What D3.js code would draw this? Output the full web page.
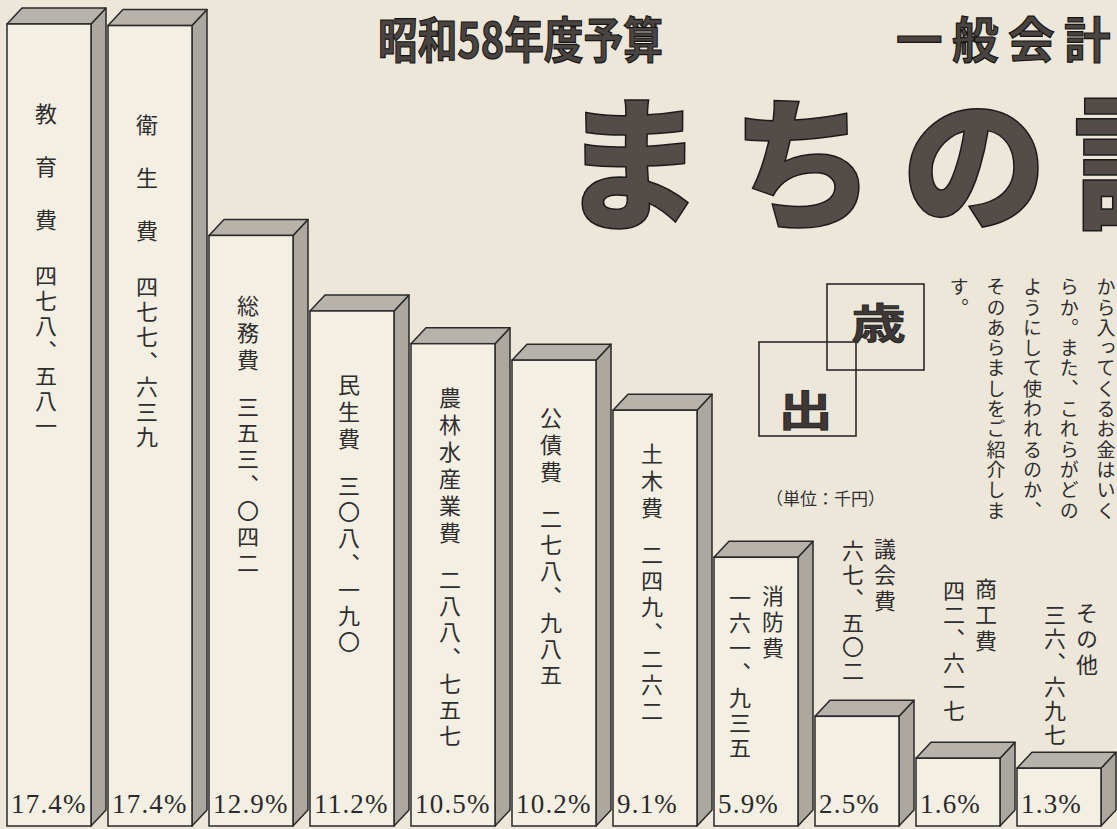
<!DOCTYPE html>
<html>
<head>
<meta charset="utf-8">
<script src="https://cdn.jsdelivr.net/npm/d3@7"></script>
<style>
  body { margin: 0; background: #ede7da; overflow: hidden; }
  svg { display: block; }
</style>
</head>
<body>
<div id="chart"></div>
<script>
// ---------------- data (単位: 千円)
const items = ["教育費", "衛生費", "総務費", "民生費", "農林水産業費", "公債費", "土木費", "消防費", "議会費", "商工費", "その他"]
const amounts = [478581, 477639, 353042, 308190, 288757, 278985, 249262, 161935, 67502, 42617, 36697]
const shares = ["17.4", "17.4", "12.9", "11.2", "10.5", "10.2", "9.1", "5.9", "2.5", "1.6", "1.3"]

const titleLeft = "昭和58年度予算"
const titleRight = "一般会計"
const headline = "まちの計"
const unitNote = "（単位：千円）"
const introColumns = ["から入ってくるお金はいく", "らか。また、これらがどの", "ようにして使われるのか、", "そのあらましをご紹介しま", "す。"]

// first label character centre, relative to the bar's top edge
const labelOffset = [90, 99, 70, 74, 54, 57, 43, 38, -168, -170, -156]

function drawChart() {
    const dims = { width: 1117, height: 829, base: 826, depthX: 15, depthY: 16, face: 84 }
    const ink = "#2a2a2a"
    const jp = "'Noto Sans CJK JP', 'Noto Sans', sans-serif"

    const svg = d3.select("#chart").append("svg")
        .attr("width", dims.width)
        .attr("height", dims.height)

    svg.append("rect")
        .attr("width", dims.width)
        .attr("height", dims.height)
        .attr("fill", "#ede7da")

    //------------------------ scales
    const x = d3.scaleBand()
        .domain(items)
        .range([7, 7 + 101 * items.length])
        .paddingInner(0)

    const y = d3.scaleLinear()
        .domain([0, d3.max(amounts)])
        .range([830, 24])

    const toKanji = n => {
        const digits = "〇一二三四五六七八九"
        const s = String(n).split("").map(c => digits[+c]).join("")
        return s.slice(0, -3) + "、" + s.slice(-3)
    }

    //------------------------ header
    svg.append("text")
        .attr("transform", "translate(378,58) scale(0.81,1)")
        .attr("font-family", jp)
        .attr("font-weight", 700)
        .attr("font-size", 49)
        .attr("fill", "#4a4440")
        .attr("stroke", "#151515")
        .attr("stroke-width", 1.2)
        .text(titleLeft)

    svg.append("text")
        .attr("transform", "translate(896,58) scale(0.95,1)")
        .attr("font-family", jp)
        .attr("font-weight", 700)
        .attr("font-size", 49)
        .attr("letter-spacing", 10)
        .attr("fill", "#4a4440")
        .attr("stroke", "#151515")
        .attr("stroke-width", 1.2)
        .text(titleRight)

    svg.append("text")
        .attr("x", 560)
        .attr("y", 219)
        .attr("font-family", jp)
        .attr("font-weight", 900)
        .attr("font-size", 145)
        .attr("letter-spacing", 26)
        .attr("fill", "#544c48")
        .attr("stroke", "#1a1a1a")
        .attr("stroke-width", 1.5)
        .text(headline)

    // 歳出 boxes
    const boxes = [
        { ch: "歳", x: 827, y: 284, w: 97, h: 86 },
        { ch: "出", x: 759, y: 342, w: 97, h: 94 }
    ]
    boxes.forEach(b => {
        svg.append("rect")
            .attr("x", b.x).attr("y", b.y)
            .attr("width", b.w).attr("height", b.h)
            .attr("fill", "none")
            .attr("stroke", ink)
            .attr("stroke-width", 1.6)
        svg.append("text")
            .attr("transform", `translate(${b.x + b.w / 2 + (b.ch === "歳" ? 3 : -2)},${b.y + b.h / 2 + (b.ch === "歳" ? -6 : 19)}) scale(1.05,0.8)`)
            .attr("text-anchor", "middle")
            .attr("dominant-baseline", "central")
            .attr("font-family", jp)
            .attr("font-weight", 700)
            .attr("font-size", 52)
            .attr("fill", "#3d3835")
            .attr("stroke", "#151515")
            .attr("stroke-width", 0.8)
            .text(b.ch)
    })

    // vertical text helper
    const vtext = (g, str, cx, firstCentre, fs, pitch) => g.append("text")
        .attr("x", cx)
        .attr("y", firstCentre - fs / 2)
        .style("writing-mode", "vertical-rl")
        .attr("font-family", jp)
        .attr("font-weight", 400)
        .attr("font-size", fs)
        .attr("letter-spacing", pitch - fs)
        .attr("fill", "#2e2e2e")
        .text(str)

    introColumns.forEach((col, i) => {
        vtext(svg, col, 1106 - i * 36.7, 287, 19, 20.3)
    })

    svg.append("text")
        .attr("x", 766)
        .attr("y", 497)
        .attr("dominant-baseline", "central")
        .attr("font-family", jp)
        .attr("font-size", 17)
        .attr("fill", "#2e2e2e")
        .text(unitNote)

    //------------------------ 3D bars
    const bars = svg.append("g")
        .selectAll("g")
        .data(items.map((name, i) => ({ name, value: amounts[i], share: shares[i], i })))
        .join("g")

    const L = d => x(d.name)
    const R = d => x(d.name) + dims.face
    const T = d => y(d.value)
    const dx = dims.depthX, dy = dims.depthY, base = dims.base

    bars.append("polygon")
        .attr("points", d => [[R(d), T(d)], [R(d) + dx, T(d) - dy], [R(d) + dx, base - dy], [R(d), base]].join(" "))
        .attr("fill", "#aca79f")
        .attr("stroke", ink)
        .attr("stroke-width", 1.5)
        .attr("stroke-linejoin", "round")

    bars.append("polygon")
        .attr("points", d => [[L(d), T(d)], [L(d) + dx, T(d) - dy], [R(d) + dx, T(d) - dy], [R(d), T(d)]].join(" "))
        .attr("fill", "#b7b2aa")
        .attr("stroke", ink)
        .attr("stroke-width", 1.5)
        .attr("stroke-linejoin", "round")

    bars.append("rect")
        .attr("x", L)
        .attr("y", T)
        .attr("width", dims.face)
        .attr("height", d => base - T(d))
        .attr("fill", "#f4efe3")
        .attr("stroke", ink)
        .attr("stroke-width", 1.5)

    bars.append("text")
        .attr("x", d => L(d) + 4)
        .attr("y", 813)
        .attr("font-family", "'Liberation Serif', 'DejaVu Serif', serif")
        .attr("font-size", 27)
        .attr("letter-spacing", 1.2)
        .attr("fill", "#2a2a2a")
        .text(d => d.share + "%")

    //------------------------ vertical labels
    bars.each(function (d) {
        const g = d3.select(this)
        const c = L(d) + dims.face / 2 - 3
        const first = T(d) + labelOffset[d.i]
        const fs = 22
        if (d.i < 2) {
            vtext(g, d.name, c, first, fs, 53)
            vtext(g, toKanji(d.value), c, first + 3 * 53 + 3, fs, 25)
        } else if (d.i < 7) {
            vtext(g, d.name, c, first, fs, 27)
            vtext(g, toKanji(d.value), c, first + (d.name.length - 1) * 27 + 47, fs, 26)
        } else if (d.i === 7) {
            vtext(g, d.name, c + 20, first, fs, 26)
            vtext(g, toKanji(d.value), c - 13, first + 2, fs, 25)
        } else {
            vtext(g, d.name, c + 31, first, fs, 26)
            vtext(g, toKanji(d.value), c - 1, first + 2, fs, 24)
        }
    })
}

drawChart()
</script>
</body>
</html>
